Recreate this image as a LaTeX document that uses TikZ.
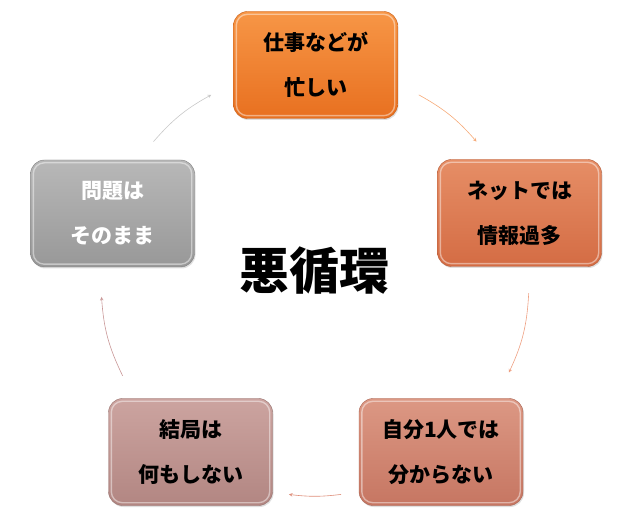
\documentclass[tikz,border=0pt]{standalone}
\usepackage{fontspec}
\newfontfamily\jpfont{Noto Sans CJK JP}
\usetikzlibrary{shadows}

\definecolor{boxa}{RGB}{247,150,70}
\definecolor{boxab}{RGB}{232,112,32}
\definecolor{boxb}{RGB}{230,142,102}
\definecolor{boxbb}{RGB}{212,108,68}
\definecolor{boxc}{RGB}{220,152,132}
\definecolor{boxcb}{RGB}{198,118,98}
\definecolor{boxd}{RGB}{204,164,160}
\definecolor{boxdb}{RGB}{178,134,130}
\definecolor{boxe}{RGB}{184,184,184}
\definecolor{boxeb}{RGB}{152,152,152}

\tikzset{
  cycbox/.style={rounded corners=14pt, minimum width=164pt, minimum height=107pt,
    align=center, font=\jpfont\bfseries\fontsize{21}{45}\selectfont,
    drop shadow={opacity=.25, shadow xshift=1pt, shadow yshift=-1.5pt}},
  cycarrow/.style={->, line width=0.6pt, -stealth}
}

\begin{document}
\begin{tikzpicture}[x=1pt, y=1pt]
 \useasboundingbox (0,0) rectangle (640,517);
 \coordinate (cyc) at (315,235);

 \node[cycbox, top color=boxa, bottom color=boxab, draw=boxab!85!black] at (315.5,452) (busy)
   {仕事などが\\忙しい};
 \node[cycbox, top color=boxb, bottom color=boxbb, draw=boxbb!85!black] at (519.5,304) (info)
   {ネットでは\\情報過多};
 \node[cycbox, top color=boxc, bottom color=boxcb, draw=boxcb!85!black] at (441,65) (alone)
   {自分1人では\\分からない};
 \node[cycbox, top color=boxd, bottom color=boxdb, draw=boxdb!85!black] at (190.5,65) (idle)
   {結局は\\何もしない};
 \node[cycbox, top color=boxe, bottom color=boxeb, draw=boxeb!85!black, text=white] at (112.5,303.5) (stay)
   {問題は\\そのまま};
 \node[font=\jpfont\bfseries\fontsize{50}{50}\selectfont] at (314,246) (vicious) {悪循環};

 \foreach \b in {busy, info, alone, idle, stay}
   \draw[white, opacity=.45, line width=1.4pt, rounded corners=11pt]
     ([shift={(3pt,3pt)}]\b.south west) rectangle ([shift={(-3pt,-3pt)}]\b.north east);

 \coordinate (a1) at ([shift={(61:214)}]cyc);
 \coordinate (b1) at ([shift={(41:214)}]cyc);
 \coordinate (a2) at ([shift={(-3:214)}]cyc);
 \coordinate (b2) at ([shift={(-25:214)}]cyc);
 \coordinate (a3) at ([shift={(-83:214)}]cyc);
 \coordinate (b3) at ([shift={(-97:214)}]cyc);
 \coordinate (a4) at ([shift={(206:214)}]cyc);
 \coordinate (b4) at ([shift={(184:214)}]cyc);
 \coordinate (a5) at ([shift={(139:214)}]cyc);
 \coordinate (b5) at ([shift={(119:214)}]cyc);

 \draw [cycarrow, color={rgb,255:red,246;green,170;blue,120}] (a1) to[bend left=10] (b1);
 \draw [cycarrow, color={rgb,255:red,238;green,160;blue,130}] (a2) to[bend left=11] (b2);
 \draw [cycarrow, color={rgb,255:red,222;green,142;blue,122}] (a3) to[bend left=7] (b3);
 \draw [cycarrow, color={rgb,255:red,200;green,150;blue,150}] (a4) to[bend left=11] (b4);
 \draw [cycarrow, color={rgb,255:red,200;green,200;blue,200}] (a5) to[bend left=10] (b5);
\end{tikzpicture}
\end{document}
